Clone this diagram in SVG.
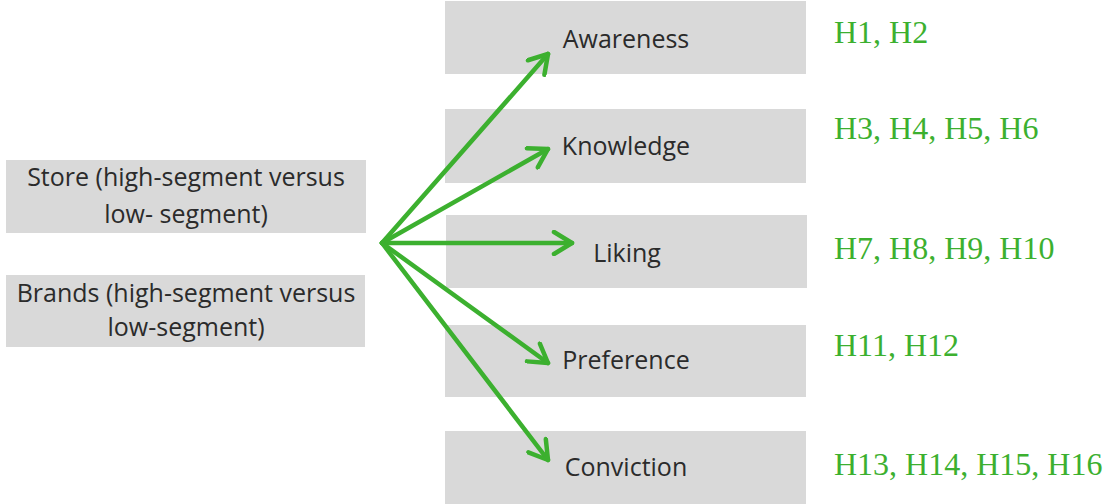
<svg xmlns="http://www.w3.org/2000/svg" width="1104" height="504" viewBox="0 0 1104 504">
<defs>
<style>
.box{fill:#d9d9d9}
.lbl{font-family:"Open Sans","Liberation Sans",sans-serif;font-size:25px;fill:#2b2b2b;text-anchor:middle}
.hyp{font-family:"Liberation Serif","Times New Roman",serif;font-size:32px;fill:#3cb02f}
.arr{stroke:#3cb02f;stroke-width:4.5;fill:none;stroke-linecap:round;stroke-linejoin:round}
</style>
<marker id="ah" viewBox="0 0 26 26" refX="22" refY="13" markerWidth="26" markerHeight="26" markerUnits="userSpaceOnUse" orient="auto">
<path d="M4,2 L22,13 L4,24" fill="none" stroke="#3cb02f" stroke-width="4.5" stroke-linecap="round" stroke-linejoin="round"/>
</marker>
</defs>
<rect width="1104" height="504" fill="#ffffff"/>
<g id="store"><rect class="box" x="6" y="160" width="360" height="73"/><text class="lbl" x="186" y="186">Store (high-segment versus</text><text class="lbl" x="186" y="223">low- segment)</text></g>
<g id="brands"><rect class="box" x="6" y="275" width="359" height="72"/><text class="lbl" x="186" y="302">Brands (high-segment versus</text><text class="lbl" x="186" y="336">low-segment)</text></g>
<g id="awareness"><rect class="box" x="445" y="1" width="361" height="73"/><text class="lbl" x="626" y="48">Awareness</text></g>
<g id="knowledge"><rect class="box" x="445" y="109" width="361" height="74"/><text class="lbl" x="626" y="155">Knowledge</text></g>
<g id="liking"><rect class="box" x="446" y="215" width="361" height="73"/><text class="lbl" x="627" y="262">Liking</text></g>
<g id="preference"><rect class="box" x="445" y="325" width="361" height="72"/><text class="lbl" x="626" y="369">Preference</text></g>
<g id="conviction"><rect class="box" x="445" y="431" width="361" height="73"/><text class="lbl" x="626" y="476">Conviction</text></g>
<g id="hyp">
<text class="hyp" x="834" y="43">H1, H2</text>
<text class="hyp" x="834" y="139">H3, H4, H5, H6</text>
<text class="hyp" x="834" y="259">H7, H8, H9, H10</text>
<text class="hyp" x="834" y="356">H11, H12</text>
<text class="hyp" x="834" y="475">H13, H14, H15, H16</text>
</g>
<g id="connectors" class="arr">
<line x1="382" y1="243" x2="548" y2="54" marker-end="url(#ah)"/>
<line x1="382" y1="243" x2="548" y2="149" marker-end="url(#ah)"/>
<line x1="382" y1="243" x2="572" y2="243" marker-end="url(#ah)"/>
<line x1="382" y1="243" x2="548" y2="363" marker-end="url(#ah)"/>
<line x1="382" y1="243" x2="548" y2="460" marker-end="url(#ah)"/>
</g>
</svg>
